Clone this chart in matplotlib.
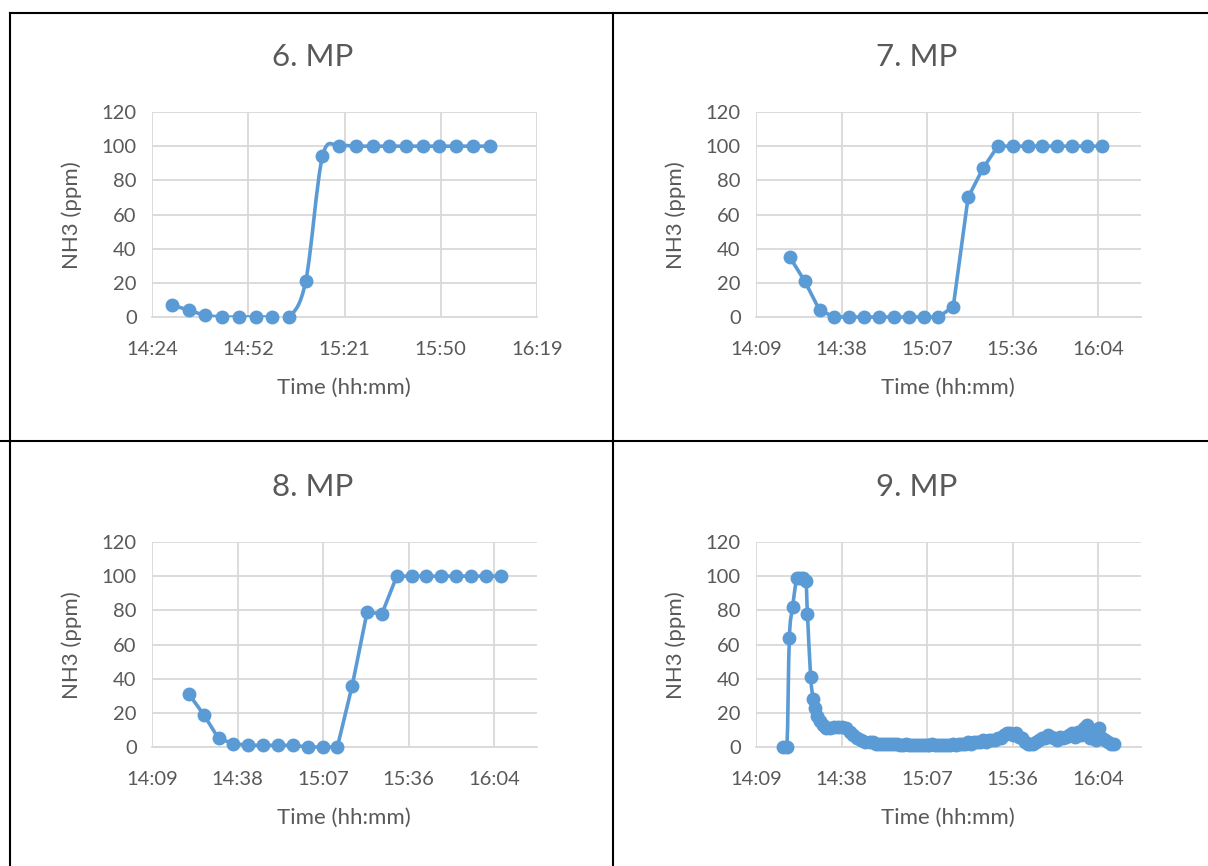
import numpy as np
import matplotlib
matplotlib.use("Agg")
import matplotlib.pyplot as plt
from matplotlib.path import Path
from matplotlib.patches import PathPatch
from matplotlib.ticker import FuncFormatter

plt.rcParams["font.family"] = ["Lato", "DejaVu Sans"]

BLUE = "#5B9BD5"
GRID = "#D9D9D9"
TEXT = "#595959"

# --- data (clock time, NH3 ppm) ---
mp6_time = ["14:30", "14:35", "14:40", "14:45", "14:50", "14:55", "15:00", "15:05",
            "15:10", "15:15", "15:20", "15:25", "15:30", "15:35", "15:40", "15:45",
            "15:50", "15:55", "16:00", "16:05"]
mp6_nh3 = [7, 4, 1, 0, 0, 0, 0, 0, 21, 94, 100, 100, 100, 100, 100, 100, 100, 100, 100, 100]

mp7_time = ["14:21", "14:26", "14:31", "14:36", "14:41", "14:46", "14:51", "14:56",
            "15:01", "15:06", "15:11", "15:16", "15:21", "15:26", "15:31", "15:36",
            "15:41", "15:46", "15:51", "15:56", "16:01", "16:06"]
mp7_nh3 = [35, 21, 4, 0, 0, 0, 0, 0, 0, 0, 0, 6, 70, 87, 100, 100, 100, 100, 100, 100, 100, 100]

mp8_time = ["14:22", "14:27", "14:32", "14:37", "14:42", "14:47", "14:52", "14:57",
            "15:02", "15:07", "15:12", "15:17", "15:22", "15:27", "15:32", "15:37",
            "15:42", "15:47", "15:52", "15:57", "16:02", "16:07"]
mp8_nh3 = [31, 19, 5, 2, 1, 1, 1, 1, 0, 0, 0, 36, 79, 78, 100, 100, 100, 100, 100, 100, 100, 100]

mp9_time = ["14:18:40", "14:20:00", "14:20:50", "14:21:55", "14:23:20", "14:24:25", "14:25:25",
            "14:26:25", "14:26:55", "14:28:00", "14:28:50", "14:29:25", "14:30:05", "14:31:05",
            "14:32:05", "14:33:05", "14:34:25", "14:35:50", "14:37:10", "14:38:30", "14:39:50",
            "14:41:10", "14:42:10", "14:43:30", "14:44:55", "14:46:10", "14:47:55",
            "14:49", "14:50", "14:51", "14:52", "14:53", "14:54", "14:55", "14:56",
            "14:57", "14:58", "14:59", "15:00", "15:01", "15:02", "15:03", "15:04", "15:05",
            "15:06", "15:07", "15:08", "15:09", "15:10", "15:11", "15:12", "15:13", "15:14",
            "15:15", "15:16", "15:17", "15:18", "15:19", "15:20", "15:21", "15:22", "15:23",
            "15:24", "15:25", "15:26", "15:27", "15:28", "15:29", "15:30", "15:31", "15:32",
            "15:33", "15:34", "15:35", "15:36", "15:37", "15:38", "15:39", "15:40", "15:41",
            "15:42", "15:43", "15:44", "15:45", "15:46", "15:47", "15:48", "15:49", "15:50",
            "15:51", "15:52", "15:53", "15:54", "15:55", "15:56", "15:57", "15:58", "15:59",
            "16:00", "16:01", "16:02", "16:03", "16:04", "16:05", "16:06", "16:07", "16:08",
            "16:09", "16:10"]
mp9_nh3 = [0, 0, 64, 82, 99, 99, 99, 97, 78, 41, 28, 23, 18, 15, 13, 11, 11, 12, 12, 12, 11,
           9, 7, 5, 4, 3, 3,
           3, 2, 2, 2, 2, 2, 2, 2,
           2, 1, 1, 2, 1, 1, 1, 1, 1, 1, 1, 1, 2, 1, 1, 1, 1, 1, 1,
           2, 1, 2, 2, 2,
           3, 2, 3, 3, 3, 4, 3,
           4, 4, 4, 5,
           5, 7, 8, 8, 7, 8, 6, 5, 3, 2, 2, 2, 3, 4, 5, 5, 7, 6, 5, 4, 6, 5, 6, 7, 8, 6, 9, 7,
           11, 13, 5, 10, 4, 11, 5, 4, 3, 2, 2]

# axis ranges as Excel day fractions
axis_a = (0.60, 0.68, [0.60, 0.62, 0.64, 0.66, 0.68])
axis_b = (0.59, 0.68, [0.59, 0.61, 0.63, 0.65, 0.67])


def day_frac(s):
    parts = [int(p) for p in s.split(":")]
    while len(parts) < 3:
        parts.append(0)
    h, m, sec = parts
    return (h * 3600 + m * 60 + sec) / 86400.0


def hhmm(x, pos=None):
    mins = int(np.floor(x * 1440 + 1e-6))
    return f"{mins // 60}:{mins % 60:02d}"


def smooth_path(x, y):
    # Excel-style smoothed line: cubic Bezier with Catmull-Rom control points
    pts = np.column_stack([x, y])
    verts = [pts[0]]
    codes = [Path.MOVETO]
    n = len(pts)
    for i in range(n - 1):
        p0 = pts[max(i - 1, 0)]
        p1 = pts[i]
        p2 = pts[i + 1]
        p3 = pts[min(i + 2, n - 1)]
        c1 = p1 + (p2 - p0) / 6.0
        c2 = p2 - (p3 - p1) / 6.0
        verts += [c1, c2, p2]
        codes += [Path.CURVE4] * 3
    return Path(verts, codes)


W, H = 1208, 866
fig = plt.figure(figsize=(W / 100, H / 100), dpi=100)

# table grid lines
fig.add_artist(plt.Line2D([10 / W, 1.0], [1 - 13 / H, 1 - 13 / H], color="black", lw=1.5))
fig.add_artist(plt.Line2D([0.0, 1.0], [1 - 441 / H, 1 - 441 / H], color="black", lw=1.5))
fig.add_artist(plt.Line2D([10 / W, 10 / W], [0, 1 - 13 / H], color="black", lw=1.5))
fig.add_artist(plt.Line2D([613 / W, 613 / W], [0, 1 - 13 / H], color="black", lw=1.5))

panels = [
    ("6. MP", mp6_time, mp6_nh3, axis_a, 0, 0, True),
    ("7. MP", mp7_time, mp7_nh3, axis_b, 604, 0, False),
    ("8. MP", mp8_time, mp8_nh3, axis_b, 0, 430, False),
    ("9. MP", mp9_time, mp9_nh3, axis_b, 604, 430, True),
]

for title, times, vals, (x0, x1, ticks), dx, dy, smooth in panels:
    left, top, right, bottom = 152 + dx, 112 + dy, 537 + dx, 317 + dy
    ax = fig.add_axes([left / W, 1 - bottom / H, (right - left) / W, (bottom - top) / H])
    x = np.array([day_frac(t) for t in times])
    y = np.array(vals, dtype=float)

    if smooth:
        ax.add_patch(PathPatch(smooth_path(x, y), facecolor="none", edgecolor=BLUE,
                               lw=2.6, capstyle="round", joinstyle="round", zorder=3))
        ax.plot(x, y, ls="none", marker="o", ms=9, color=BLUE, zorder=4, clip_on=False)
    else:
        ax.plot(x, y, color=BLUE, lw=2.6, marker="o", ms=9, zorder=3,
                solid_joinstyle="round", clip_on=False)

    ax.set_xlim(x0, x1)
    ax.set_ylim(0, 120)
    ax.set_xticks(ticks)
    ax.set_yticks(range(0, 121, 20))
    ax.xaxis.set_major_formatter(FuncFormatter(hhmm))
    ax.grid(True, color=GRID, lw=1.3)
    ax.set_axisbelow(True)
    for s in ("top", "right", "left"):
        ax.spines[s].set_visible(False)
    ax.spines["bottom"].set_color(GRID)
    ax.spines["bottom"].set_linewidth(1.3)
    ax.tick_params(length=0, labelsize=14.5, labelcolor=TEXT)
    ax.tick_params(axis="x", pad=17)
    ax.tick_params(axis="y", pad=11)

    fig.text((313 + dx) / W, 1 - (57 + dy) / H, title, ha="center", va="center",
             fontsize=22.5, color=TEXT)
    fig.text((344 + dx) / W, 1 - (388 + dy) / H, "Time (hh:mm)", ha="center", va="center",
             fontsize=16, color=TEXT)
    fig.text((72 + dx) / W, 1 - (215 + dy) / H, "NH3 (ppm)", ha="center", va="center",
             rotation=90, fontsize=16, color=TEXT)

fig.savefig("out.png", dpi=100)
